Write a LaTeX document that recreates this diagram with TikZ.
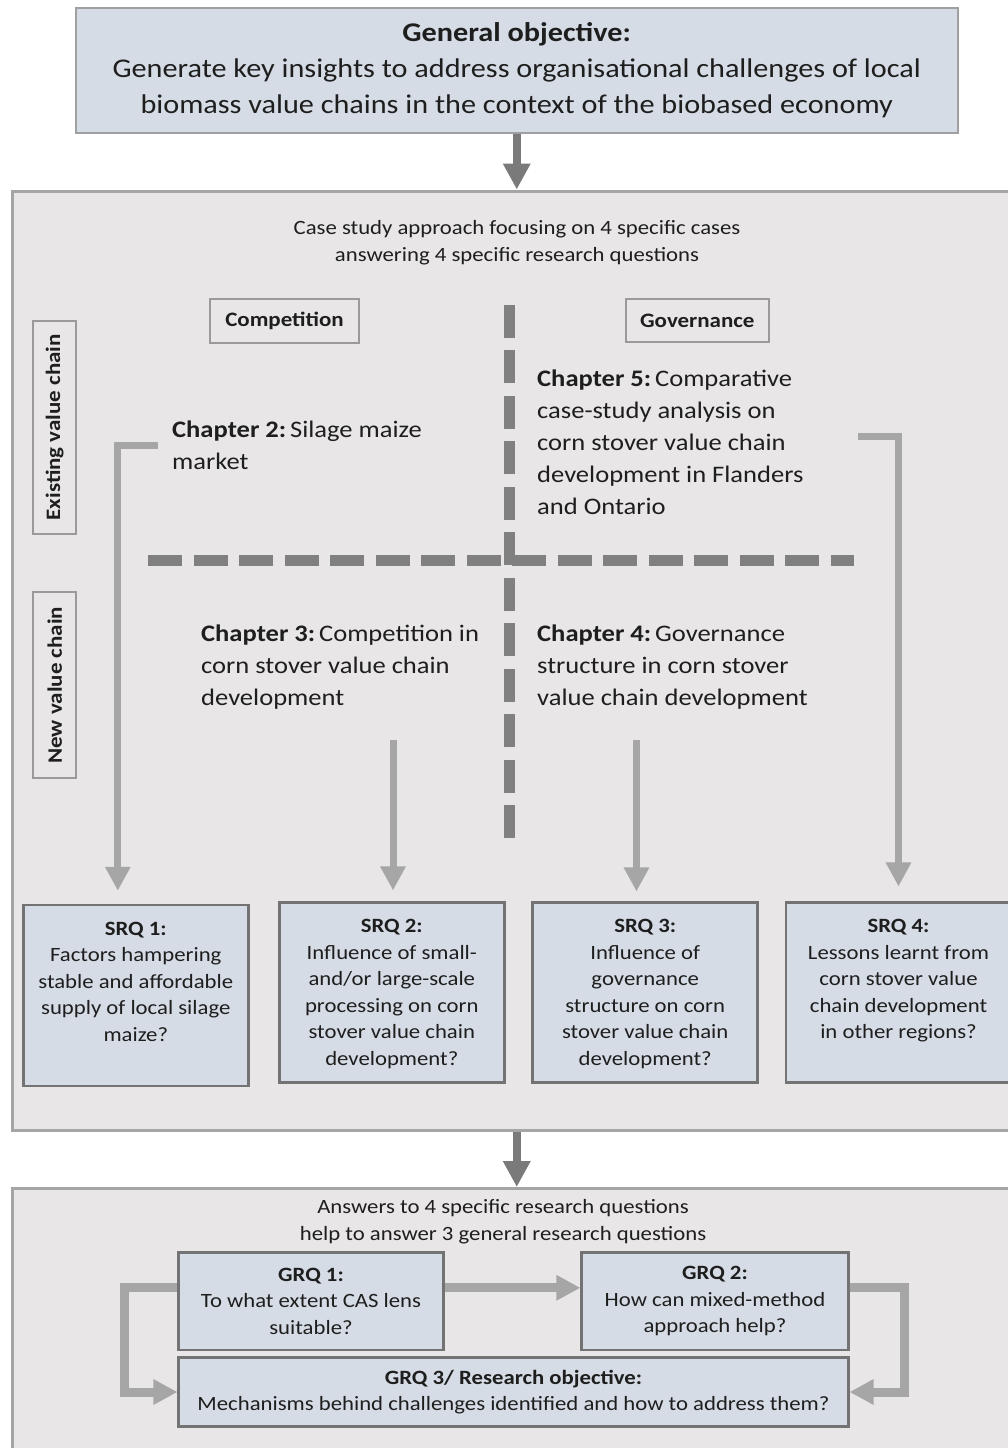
\documentclass[tikz,border=0pt]{standalone}
\usepackage{fontspec}
\setmainfont{Carlito}[FakeStretch=1.12]
\usetikzlibrary{arrows.meta}

\definecolor{boxfill}{HTML}{D6DCE5}
\definecolor{panelfill}{HTML}{E8E6E6}
\definecolor{panelline}{HTML}{A5A5A5}
\definecolor{goalline}{HTML}{A0A0A0}
\definecolor{qline}{HTML}{737373}
\definecolor{tagline}{HTML}{9A9A9A}
\definecolor{leadcol}{HTML}{7A7A7A}
\definecolor{feedcol}{HTML}{A6A6A6}
\definecolor{dashcol}{HTML}{808080}
\definecolor{ink}{HTML}{1E1E1E}

\newcommand\fsTop{\fontsize{27}{36}\selectfont}
\newcommand\fsChap{\fontsize{23.7}{32}\selectfont}
\newcommand\fsNote{\fontsize{20.3}{27.5}\selectfont}
\newcommand\fsBox{\fontsize{20.3}{26.5}\selectfont}
\newcommand\fsTag{\fontsize{20.5}{24}\selectfont\bfseries}

\begin{document}
\begin{tikzpicture}[x=1pt,y=-1pt,
  every node/.style={text=ink},
  panel/.style={draw=panelline, line width=3pt, fill=panelfill, inner sep=0pt},
  goalbox/.style={draw=goalline, line width=2pt, fill=boxfill, inner sep=0pt, align=center, font=\fsTop},
  qbox/.style={draw=qline, line width=2.5pt, fill=boxfill, inner sep=0pt, minimum width=225pt, minimum height=180pt},
  qtext/.style={anchor=north, inner sep=0pt, align=center, font=\fsBox},
  gbox/.style={draw=qline, line width=2.5pt, fill=boxfill, inner sep=0pt, align=center, font=\fsBox},
  tag/.style={draw=tagline, line width=2pt, inner sep=0pt, font=\fsTag},
  chap/.style={anchor=north west, inner sep=0pt, align=left, font=\fsChap},
  note/.style={anchor=north, inner sep=0pt, align=center, font=\fsNote},
  lead/.style={draw=leadcol, line width=8pt, -{Triangle[width=26pt,length=26pt]}},
  feed/.style={draw=feedcol, line width=7pt, -{Triangle[width=24pt,length=24pt]}},
  loopback/.style={draw=feedcol, line width=9pt, -{Triangle[width=24pt,length=24pt]}},
  divider/.style={draw=dashcol, line width=11pt},
]
\useasboundingbox (0,0) rectangle (1008,1448);
\clip (0,0) rectangle (1008,1448);
\fill[white] (0,0) rectangle (1008,1448);

% general objective
\node[goalbox, minimum width=881.5pt, minimum height=125pt] (goal) at (516.75,70.5)
  {{\bfseries General objective:}\\
   Generate key insights to address organisational challenges of local\\
   biomass value chains in the context of the biobased economy};

% case study panel
\node[panel, minimum width=1017.5pt, minimum height=939pt] (panel) at (521.25,660.5) {};
\node[note] (caseintro) at (517,220)
  {Case study approach focusing on 4 specific cases\\answering 4 specific research questions};

% column and row tags
\node[tag, minimum width=149pt, minimum height=43.5pt] (compet) at (284.5,321) {Competition};
\node[tag, minimum width=143.3pt, minimum height=43.3pt] (govern) at (697.3,320.7) {Governance};
\node[tag, rotate=90, minimum width=213.3pt, minimum height=42.7pt] (existing) at (54.7,427.3) {Existing value chain};
\node[tag, rotate=90, minimum width=186pt, minimum height=42.7pt] (newchain) at (54.7,685.3) {New value chain};

% quadrant dividers
\coordinate (hleft) at (148,560);
\coordinate (hright) at (854,560);
\coordinate (vtop) at (509.5,305);
\coordinate (vbot) at (509.5,838.5);
\draw[divider, dash pattern=on 34pt off 11.5pt] (hleft) -- (hright);
\draw[divider, dash pattern=on 33pt off 12.45pt] (vtop) -- (vbot);

% chapters
\node[chap] (ch2) at (172,421) {{\bfseries Chapter 2:}\,Silage maize\\market};
\node[chap] (ch5) at (537,370) {{\bfseries Chapter 5:}\,Comparative\\case-study analysis on\\corn stover value chain\\development in Flanders\\and Ontario};
\node[chap] (ch3) at (201,625) {{\bfseries Chapter 3:}\,Competition in\\corn stover value chain\\development};
\node[chap] (ch4) at (537,625) {{\bfseries Chapter 4:}\,Governance\\structure in corn stover\\value chain development};

% specific research questions
\node[qbox, minimum height=181pt] (srq1) at (135.8,995.5) {};
\node[qbox] (srq2) at (391.8,992.7) {};
\node[qbox] (srq3) at (645.2,992.7) {};
\node[qbox] (srq4) at (898.5,992.7) {};
\node[qtext] (srq1t) at ([yshift=-18pt]srq1.north)
  {{\bfseries SRQ 1:}\\Factors hampering\\stable and affordable\\supply of local silage\\maize?};
\node[qtext] (srq2t) at ([yshift=-18pt]srq2.north)
  {{\bfseries SRQ 2:}\\Influence of small-\\and/or large-scale\\processing on corn\\stover value chain\\development?};
\node[qtext] (srq3t) at ([yshift=-18pt]srq3.north)
  {{\bfseries SRQ 3:}\\Influence of\\governance\\structure on corn\\stover value chain\\development?};
\node[qtext] (srq4t) at ([yshift=-18pt]srq4.north)
  {{\bfseries SRQ 4:}\\Lessons learnt from\\corn stover value\\chain development\\in other regions?};

% chapter to question connectors
\coordinate (ch5out) at (858,436);
\coordinate (ch3out) at (393,740);
\coordinate (ch4out) at (636.5,740);
\draw[feed] ([xshift=-14pt]ch2.west) -| ([xshift=-18pt,yshift=13pt]srq1.north);
\draw[feed] (ch5out) -| ([yshift=15pt]srq4.north);
\draw[feed, shorten >=11pt] (ch3out) -- (ch3out |- srq2.north);
\draw[feed, shorten >=10pt] (ch4out) -- (ch4out |- srq3.north);

% general research questions panel
\node[panel, minimum width=1017.5pt, minimum height=281.5pt] (answers) at (521.25,1329.25) {};
\node[note] (answintro) at (503,1199)
  {Answers to 4 specific research questions\\help to answer 3 general research questions};
\node[gbox, minimum width=264.8pt, minimum height=97.3pt] (grq1) at (311,1301.3)
  {{\bfseries GRQ 1:}\\To what extent CAS lens\\suitable?};
\node[gbox, minimum width=266.7pt, minimum height=97.3pt] (grq2) at (715,1301.3)
  {{\bfseries GRQ 2:}\\How can mixed-method\\approach help?};
\node[gbox, minimum width=669.6pt, minimum height=69.4pt] (grq3) at (513.5,1392)
  {{\bfseries GRQ 3/ Research objective:}\\Mechanisms behind challenges identified and how to address them?};

\draw[loopback] ([yshift=13.5pt]grq1.east) -- ([yshift=13.5pt]grq2.west);
\draw[loopback] ([yshift=13.5pt]grq1.west) -- ++(-53,0) |- (grq3.west);
\draw[loopback] ([yshift=13.5pt]grq2.east) -- ++(55,0) |- (grq3.east);

% main flow
\draw[lead] (goal.south) -- (goal.south |- panel.north);
\draw[lead] (goal.south |- panel.south) -- (goal.south |- answers.north);
\end{tikzpicture}
\end{document}
